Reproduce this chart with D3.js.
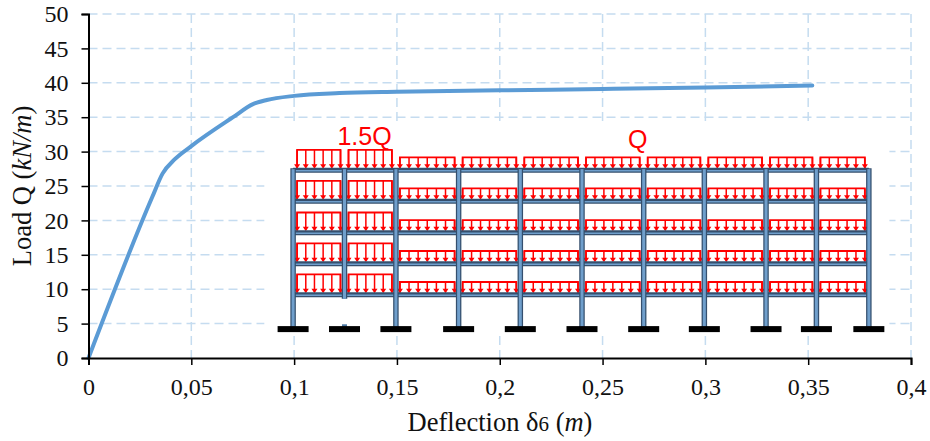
<!DOCTYPE html>
<html>
<head>
<meta charset="utf-8">
<script src="https://cdn.jsdelivr.net/npm/d3@7"></script>
<style>
  html, body { margin: 0; padding: 0; background: white; }
  text { font-family: "Liberation Serif", serif; fill: #111; }
</style>
</head>
<body>
<div id="chart"></div>
<script>
// Load-deflection curve
const deflection = [0, 0.031, 0.036, 0.042, 0.05, 0.0703, 0.08, 0.0867, 0.1, 0.122, 0.15, 0.2, 0.25, 0.3, 0.352];
const load = [0, 23.4, 26.8, 28.9, 30.8, 35, 36.9, 37.5, 38.1, 38.5, 38.7, 38.9, 39.1, 39.3, 39.6];

const xTicks = [0, 0.05, 0.1, 0.15, 0.2, 0.25, 0.3, 0.35, 0.4];
const yTicks = [0, 5, 10, 15, 20, 25, 30, 35, 40, 45, 50];

// Frame sketch, placed in the chart's own units
const columns = [0.0995, 0.1245, 0.1495, 0.18, 0.21, 0.24, 0.27, 0.2995, 0.3295, 0.354, 0.3795];
const floors = [27.3, 22.8, 18.2, 13.7, 9.2];
const groundLevel = 4.2;
const shortColumnBottom = 8.6;
const stubTop = 4.9;
const heavyBays = [0, 1];
const heavyLoad = 2.95;
const lightLoad = 1.85;
const loadLabels = ["1.5Q", "Q"];
const sketchArea = { x0: 0.0855, x1: 0.3895, y0: 3.6, y1: 34.4 };

const width = 930,
    height = 441;

const margin = {
    top: 14,
    bottom: 83,
    left: 88.5,
    right: 19
};

const svg = d3.select("#chart")
    .append("svg")
    .attr("width", width)
    .attr("height", height)
    .style("display", "block");

// The sketch in the reference is a soft raster, so it gets a slight blur
svg.append("defs").append("filter")
    .attr("id", "soft")
    .append("feGaussianBlur")
    .attr("stdDeviation", 0.45);

const xScale = d3.scaleLinear()
    .domain([0, 0.4])
    .range([margin.left, width - margin.right]);

const yScale = d3.scaleLinear()
    .domain([0, 50])
    .range([height - margin.bottom, margin.top]);

const tickFormat = d => String(d).replace(".", ",");

// Grid
svg.append("g").selectAll("line")
    .data(yTicks.filter(d => d > 0))
    .enter().append("line")
    .attr("x1", margin.left)
    .attr("x2", xScale(0.4))
    .attr("y1", d => yScale(d))
    .attr("y2", d => yScale(d))
    .attr("stroke", "#c5dcf0")
    .attr("stroke-width", 1.5)
    .attr("stroke-dasharray", "9 5");

svg.append("g").selectAll("line")
    .data(xTicks.filter(d => d > 0))
    .enter().append("line")
    .attr("x1", d => xScale(d))
    .attr("x2", d => xScale(d))
    .attr("y1", yScale(50))
    .attr("y2", yScale(0))
    .attr("stroke", "#c5dcf0")
    .attr("stroke-width", 1.5)
    .attr("stroke-dasharray", "9 5");

// Curve
const curve = d3.line()
    .x(d => xScale(d[0]))
    .y(d => yScale(d[1]))
    .curve(d3.curveMonotoneX);

svg.append("path")
    .datum(deflection.map((d, i) => [d, load[i]]))
    .attr("d", curve)
    .attr("fill", "none")
    .attr("stroke", "#5b9bd5")
    .attr("stroke-width", 4)
    .attr("stroke-linecap", "round");

// White patch that hides the grid behind the sketch
svg.append("rect")
    .attr("x", xScale(sketchArea.x0))
    .attr("y", yScale(sketchArea.y1))
    .attr("width", xScale(sketchArea.x1) - xScale(sketchArea.x0))
    .attr("height", yScale(sketchArea.y0) - yScale(sketchArea.y1))
    .attr("fill", "white");

const sketch = svg.append("g")
    .attr("filter", "url(#soft)");

// Distributed loads on every bay of every floor
const bays = d3.pairs(columns).map((d, i) => ({ from: d[0], to: d[1], heavy: heavyBays.includes(i) }));
const loadBoxes = floors.flatMap(floor => bays.map(b => ({ ...b, floor })));

const boxes = sketch.selectAll(".load")
    .data(loadBoxes)
    .enter().append("g")
    .attr("class", "load");

const boxTop = d => yScale(d.floor + (d.heavy ? heavyLoad : lightLoad));

boxes.append("path")
    .attr("d", d => {
        const x0 = xScale(d.from) + 4, x1 = xScale(d.to) - 4;
        return `M${x0},${yScale(d.floor) - 2}V${boxTop(d)}H${x1}V${yScale(d.floor) - 2}`;
    })
    .attr("fill", "none")
    .attr("stroke", "#ff0000")
    .attr("stroke-width", 1.8);

boxes.each(function(d) {
    const x0 = xScale(d.from) + 4, x1 = xScale(d.to) - 4;
    const n = Math.round((x1 - x0) / 8.8);
    const xs = d3.range(n + 1).map(i => x0 + (x1 - x0) * i / n);
    const g = d3.select(this);
    g.selectAll("line")
        .data(xs)
        .enter().append("line")
        .attr("x1", x => x)
        .attr("x2", x => x)
        .attr("y1", boxTop(d))
        .attr("y2", yScale(d.floor) - 3)
        .attr("stroke", "#ff0000")
        .attr("stroke-width", 1.5);
    g.selectAll("polygon")
        .data(xs)
        .enter().append("polygon")
        .attr("points", x => {
            const yb = yScale(d.floor) - 1.5;
            return `${x - 3},${yb - 4.5} ${x + 3},${yb - 4.5} ${x},${yb}`;
        })
        .attr("fill", "#ff0000");
});

// Beams
sketch.selectAll(".beam")
    .data(floors)
    .enter().append("line")
    .attr("class", "beam")
    .attr("x1", xScale(columns[0]))
    .attr("x2", xScale(columns[columns.length - 1]))
    .attr("y1", d => yScale(d))
    .attr("y2", d => yScale(d))
    .attr("stroke", "#34506e")
    .attr("stroke-width", 5);

sketch.selectAll(".beamCore")
    .data(floors)
    .enter().append("line")
    .attr("class", "beamCore")
    .attr("x1", xScale(columns[0]))
    .attr("x2", xScale(columns[columns.length - 1]))
    .attr("y1", d => yScale(d) + 0.5)
    .attr("y2", d => yScale(d) + 0.5)
    .attr("stroke", "#6f9fcc")
    .attr("stroke-width", 1.5);

// Columns, the second one stops above the ground
const columnBottom = (d, i) => i === 1 ? shortColumnBottom : groundLevel;

sketch.selectAll(".column")
    .data(columns)
    .enter().append("line")
    .attr("class", "column")
    .attr("x1", d => xScale(d))
    .attr("x2", d => xScale(d))
    .attr("y1", yScale(floors[0]) - 2)
    .attr("y2", (d, i) => yScale(columnBottom(d, i)))
    .attr("stroke", "#34506e")
    .attr("stroke-width", 5.5);

sketch.selectAll(".columnCore")
    .data(columns)
    .enter().append("line")
    .attr("class", "columnCore")
    .attr("x1", d => xScale(d))
    .attr("x2", d => xScale(d))
    .attr("y1", yScale(floors[0]) - 1)
    .attr("y2", (d, i) => yScale(columnBottom(d, i)))
    .attr("stroke", "#6f9fcc")
    .attr("stroke-width", 3);

// Little stub left under the short column
sketch.append("line")
    .attr("x1", xScale(columns[1]))
    .attr("x2", xScale(columns[1]))
    .attr("y1", yScale(stubTop))
    .attr("y2", yScale(groundLevel))
    .attr("stroke", "#4f7ba6")
    .attr("stroke-width", 5);

// Footings
sketch.selectAll(".footing")
    .data(columns)
    .enter().append("rect")
    .attr("class", "footing")
    .attr("x", d => xScale(d) - 15.5)
    .attr("y", yScale(groundLevel) - 3)
    .attr("width", 31)
    .attr("height", 6)
    .attr("fill", "black");

// Load labels
svg.append("text")
    .attr("x", xScale((columns[0] + columns[2]) / 2) + 20)
    .attr("y", yScale(floors[0] + 3.7))
    .attr("text-anchor", "middle")
    .style("font-family", "'Liberation Sans', sans-serif")
    .style("font-size", "25px")
    .style("fill", "#ff0000")
    .text(loadLabels[0]);

svg.append("text")
    .attr("x", xScale(columns[6]) - 6)
    .attr("y", yScale(floors[0] + 3.2))
    .attr("text-anchor", "middle")
    .style("font-family", "'Liberation Sans', sans-serif")
    .style("font-size", "25px")
    .style("fill", "#ff0000")
    .text(loadLabels[1]);

// Axes
const xAxis = svg.append("g")
    .attr("transform", `translate(0, ${yScale(0)})`)
    .call(d3.axisBottom(xScale).tickValues(xTicks).tickFormat(tickFormat).tickSize(7).tickPadding(13));

const yAxis = svg.append("g")
    .attr("transform", `translate(${margin.left}, 0)`)
    .call(d3.axisLeft(yScale).tickValues(yTicks).tickSize(7).tickPadding(13));

[xAxis, yAxis].forEach(axis => {
    axis.select(".domain").attr("stroke", "black").attr("stroke-width", 2);
    axis.selectAll(".tick line").attr("stroke", "black").attr("stroke-width", 1.5);
    axis.selectAll("text")
        .style("font-family", "'Liberation Serif', serif")
        .style("font-size", "24px")
        .attr("fill", "#111");
});

// Axis labels
const xLabel = svg.append("text")
    .attr("x", 500)
    .attr("y", 431)
    .attr("text-anchor", "middle")
    .style("font-size", "26.5px");
xLabel.append("tspan").text("Deflection δ");
xLabel.append("tspan").style("font-size", "21px").text("6");
xLabel.append("tspan").text(" (");
xLabel.append("tspan").style("font-style", "italic").text("m");
xLabel.append("tspan").text(")");

const yLabel = svg.append("text")
    .attr("transform", `translate(31, ${yScale(0) - 172}) rotate(-90)`)
    .attr("text-anchor", "middle")
    .style("font-size", "26.5px");
yLabel.append("tspan").text("Load Q (");
yLabel.append("tspan").style("font-style", "italic").text("kN/m");
yLabel.append("tspan").text(")");
</script>
</body>
</html>
